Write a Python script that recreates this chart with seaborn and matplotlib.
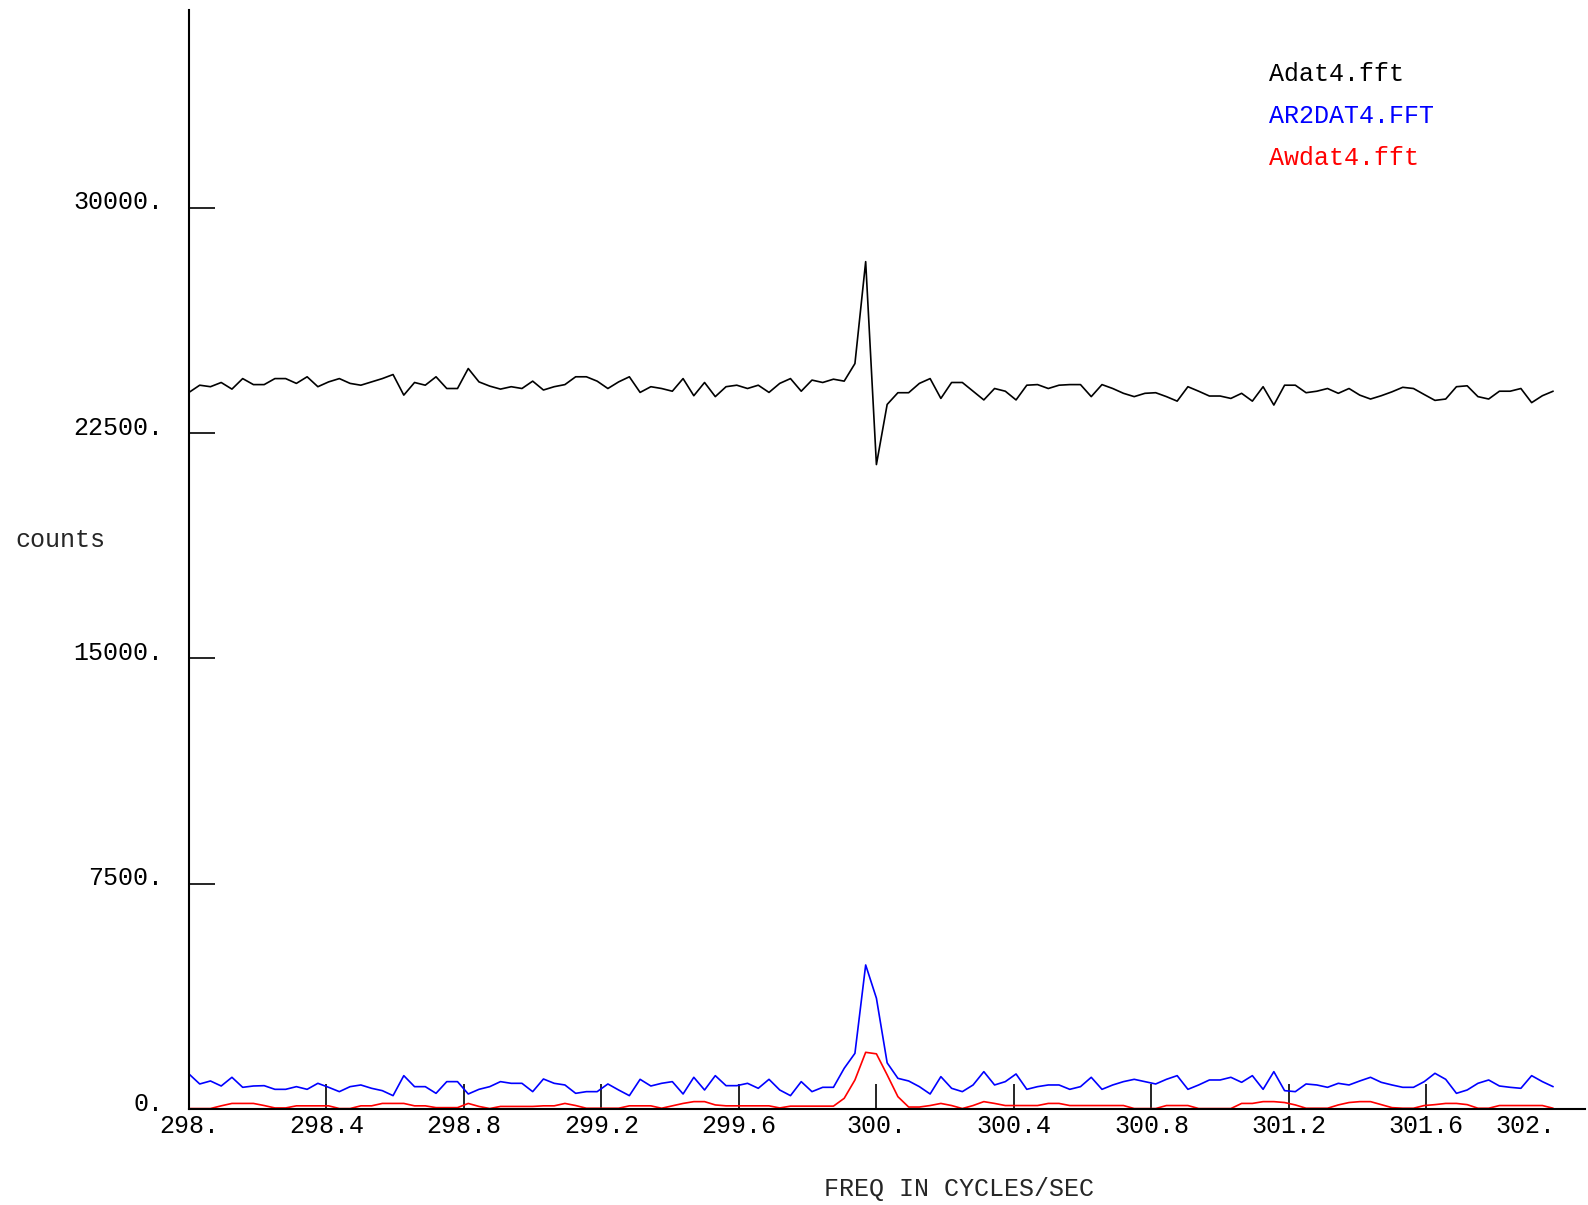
"""
    FFT spectrum plot around 300 Hz for three data files
"""

import numpy as np
import pandas as pd
import seaborn as sns
import matplotlib.pyplot as plt
import matplotlib.transforms as mtransforms


# frequency bins (0.03125 Hz resolution starting at 298 Hz)
f_start = 298.0
f_step = 1.0 / 32.0

adat4 = [23850, 24090, 24040, 24180, 23960, 24310, 24110, 24110, 24310, 24310,
         24150, 24370, 24040, 24200, 24310, 24150, 24090, 24200, 24310, 24445,
         23760, 24180, 24090, 24370, 23980, 23980, 24645, 24200, 24060, 23960,
         24040, 23980, 24225, 23930, 24040, 24110, 24370, 24370, 24225, 23980,
         24200, 24370, 23850, 24040, 23980, 23890, 24310, 23740, 24180, 23710,
         24040, 24090, 23980, 24090, 23850, 24150, 24310, 23890, 24260, 24180,
         24290, 24225, 24810, 28200, 21450, 23450, 23840, 23840, 24150, 24310,
         23650, 24180, 24180, 23890, 23600, 23980, 23890, 23600, 24090, 24110,
         23980, 24090, 24110, 24110, 23710, 24110, 23980, 23820, 23710, 23820,
         23840, 23710, 23560, 24040, 23890, 23730, 23730, 23650, 23820, 23560,
         24040, 23430, 24090, 24090, 23840, 23890, 23980, 23820, 23980, 23760,
         23630, 23740, 23870, 24020, 23980, 23780, 23585, 23630, 24040, 24070,
         23710, 23630, 23890, 23890, 23980, 23510, 23740, 23890]

ar2dat4 = [1180, 847, 947, 780, 1069, 736, 780, 791, 669, 669,
           758, 669, 869, 736, 592, 758, 814, 703, 625, 459,
           1124, 758, 758, 536, 925, 925, 514, 669, 758, 925,
           869, 869, 592, 1013, 869, 814, 536, 592, 592, 847,
           647, 459, 1002, 780, 869, 925, 514, 1069, 647, 1124,
           791, 791, 869, 703, 1002, 647, 459, 925, 592, 736,
           736, 1368, 1867, 4806, 3700, 1550, 1035, 947, 758, 514,
           1091, 703, 592, 814, 1257, 814, 925, 1180, 669, 758,
           814, 814, 669, 758, 1069, 669, 814, 925, 1002, 925,
           847, 1002, 1124, 669, 814, 980, 980, 1069, 902, 1124,
           669, 1257, 625, 592, 847, 814, 736, 869, 814, 947,
           1069, 902, 814, 736, 736, 925, 1202, 1002, 536, 647,
           869, 980, 780, 736, 703, 1124, 925, 758]

awdat4 = [30, 30, 30, 120, 200, 200, 200, 130, 50, 50,
          120, 120, 120, 120, 30, 30, 120, 120, 200, 200,
          200, 120, 120, 60, 60, 60, 200, 100, 30, 100,
          100, 100, 100, 120, 120, 200, 130, 40, 40, 40,
          40, 120, 120, 120, 40, 120, 200, 260, 260, 150,
          120, 120, 120, 120, 120, 50, 110, 110, 110, 110,
          110, 370, 980, 1900, 1850, 1150, 425, 80, 80, 130,
          200, 130, 30, 130, 260, 200, 130, 130, 130, 130,
          200, 200, 130, 130, 130, 130, 130, 130, 30, 30,
          30, 130, 130, 130, 30, 30, 30, 30, 200, 200,
          260, 260, 230, 150, 40, 40, 40, 150, 230, 260,
          260, 160, 60, 40, 40, 130, 160, 200, 200, 160,
          40, 40, 130, 130, 130, 130, 130, 40]

series_names = ["Adat4.fft", "AR2DAT4.FFT", "Awdat4.fft"]
series_colors = ["black", "#0000ff", "#ff0000"]

y_ticks = [0, 7500, 15000, 22500, 30000]
y_labels = ["0.", "7500.", "15000.", "22500.", "30000."]
x_ticks = [298.0, 298.4, 298.8, 299.2, 299.6, 300.0, 300.4, 300.8, 301.2, 301.6]
x_labels = ["298.", "298.4", "298.8", "299.2", "299.6", "300.",
            "300.4", "300.8", "301.2", "301.6"]


freq = f_start + f_step * np.arange(len(adat4))
df = pd.DataFrame({"freq": freq,
                   series_names[0]: adat4,
                   series_names[1]: ar2dat4,
                   series_names[2]: awdat4})

sns.set_theme(style="white")
plt.rcParams['font.family'] = ['Liberation Mono', 'DejaVu Sans Mono']
plt.rcParams['text.color'] = 'black'

fig = plt.figure(figsize=(15.88, 12.05), dpi=100)
ax = fig.add_axes([0.119, 0.0793, 0.879, 0.9124])

for name, col in zip(series_names, series_colors):
    sns.lineplot(data=df, x="freq", y=name, color=col, linewidth=1.2,
                 label=name, ax=ax)

ax.set_xlim(298.0, 302.061)
ax.set_ylim(0, 36570)

# axes look: only left and bottom lines, ticks pointing inside
sns.despine(ax=ax)
for s in ["left", "bottom"]:
    ax.spines[s].set_color("black")
    ax.spines[s].set_linewidth(1.5)

ax.set_yticks(y_ticks)
ax.set_yticklabels(y_labels)
ax.set_xticks(x_ticks)
ax.set_xticklabels(x_labels)
ax.tick_params(axis="y", left=True, direction="in", length=19, width=1.2,
               color="black", labelsize=18, pad=18.5, labelcolor="black")
ax.tick_params(axis="x", bottom=True, direction="in", length=18, width=1.2,
               color="black", labelsize=18, pad=3, labelcolor="black")

# y labels sit a little above their tick
up = mtransforms.ScaledTranslation(0, 0.08, fig.dpi_scale_trans)
for lab in ax.get_yticklabels():
    lab.set_transform(lab.get_transform() + up)

ax.text(301.887, -0.004, "302.", transform=ax.get_xaxis_transform(),
        ha="center", va="top", fontsize=18)

ax.set_xlabel("FREQ IN CYCLES/SEC", fontsize=18, va="center")
ax.xaxis.set_label_coords(0.552, -0.072)
ax.set_ylabel("counts", fontsize=18, rotation=0, ha="left", va="center")
ax.yaxis.set_label_coords(-0.1246, 0.518)

ax.legend(loc="upper left", bbox_to_anchor=(0.774, 0.953), frameon=False,
          handlelength=0, handletextpad=0, labelcolor="linecolor",
          fontsize=18, labelspacing=0.73, borderpad=0, borderaxespad=0)

plt.savefig("out.png", dpi=100)
